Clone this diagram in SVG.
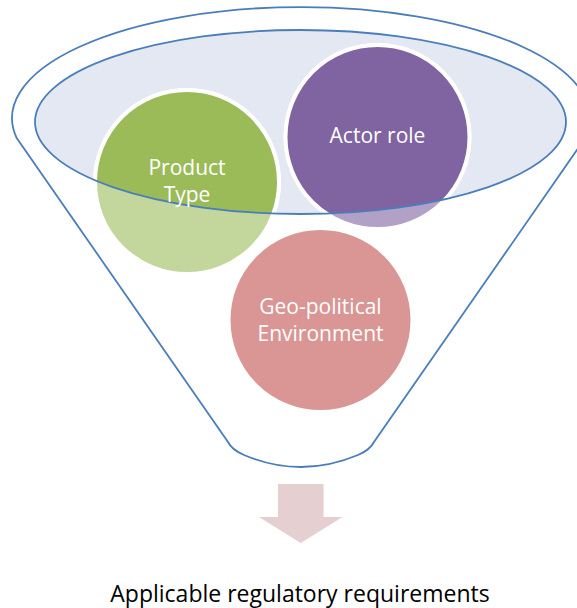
<svg xmlns="http://www.w3.org/2000/svg" width="577" height="608" viewBox="0 0 577 608">
  <style>
    .line { fill: none; stroke: #4A7EBB; stroke-width: 1.8; }
    .ring { stroke: #FFFFFF; stroke-width: 4; }
    .lbl { font-family: "Open Sans", "Liberation Sans", sans-serif; font-size: 21px; fill: #FFFFFF; text-anchor: middle; }
    .cap { font-family: "Open Sans", "Liberation Sans", sans-serif; font-size: 23px; fill: #000000; text-anchor: middle; }
  </style>
  <defs>
    <clipPath id="inTop">
      <ellipse cx="300.5" cy="122" rx="265.5" ry="92"/>
    </clipPath>
  </defs>
  <rect width="577" height="608" fill="#FFFFFF"/>
  <g id="funnel">
    <path d="M16.7,138 A289,111 0 1 1 585.3,138 L374,442 Q370,450 358,455 Q301,479 244,455 Q232,450 228,442 Z" fill="#FFFFFF" class="line"/>
    <ellipse cx="300.5" cy="122" rx="265.5" ry="92" fill="#E4E8F2"/>
  </g>
  <g id="product-type">
    <circle class="ring" cx="187" cy="182" r="92" fill="#C3D69B"/>
    <circle class="ring" cx="187" cy="182" r="92" fill="#9BBB59" clip-path="url(#inTop)"/>
  </g>
  <g id="actor-role">
    <circle class="ring" cx="377.5" cy="137" r="92" fill="#B2A1C7"/>
    <circle class="ring" cx="377.5" cy="137" r="92" fill="#8064A2" clip-path="url(#inTop)"/>
    <text class="lbl" x="377.5" y="143">Actor role</text>
  </g>
  <g id="funnel-rim">
    <ellipse cx="300.5" cy="122" rx="265.5" ry="92" class="line"/>
  </g>
  <g id="product-type-label">
    <text class="lbl" x="187" y="175">Product</text>
    <text class="lbl" x="187" y="202">Type</text>
  </g>
  <g id="geo-political">
    <circle class="ring" cx="320.5" cy="320" r="92" fill="#D99694"/>
    <text class="lbl" x="320.5" y="314">Geo-political</text>
    <text class="lbl" x="320.5" y="341">Environment</text>
  </g>
  <g id="connectors">
    <path d="M278,484 H323.5 V517 H342.5 L300.75,543 L259,517 H278 Z" fill="#E6CFD0"/>
  </g>
  <g id="result">
    <text class="cap" x="300" y="602">Applicable regulatory requirements</text>
  </g>
</svg>
